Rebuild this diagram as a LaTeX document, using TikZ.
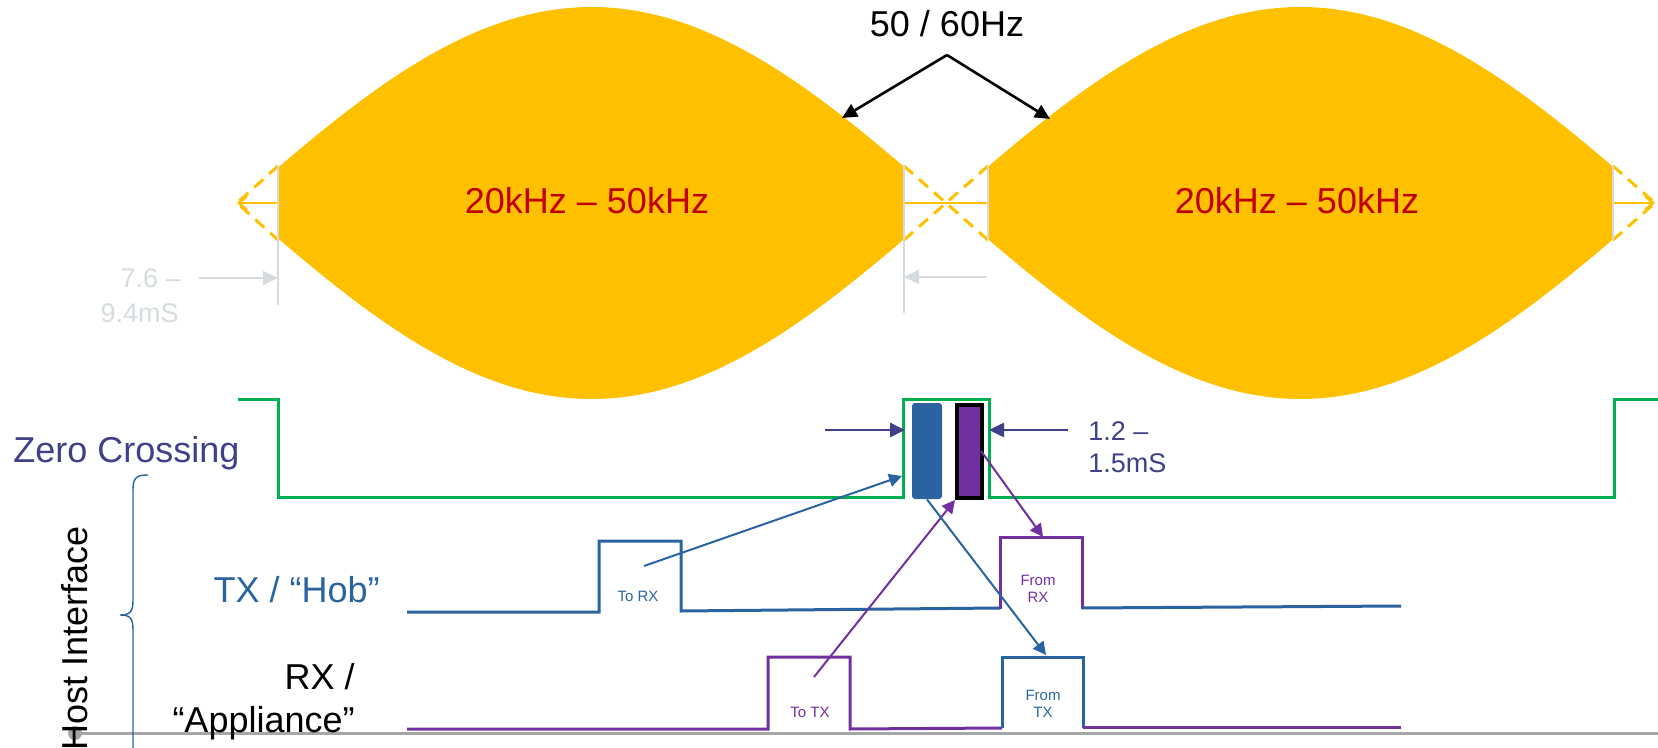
\documentclass[tikz,border=0pt]{standalone}
\usepackage{fontspec}
\setmainfont{Liberation Sans}
\usepackage{xcolor}
\usetikzlibrary{arrows.meta,positioning}
\definecolor{hobOrange}{HTML}{FFC000}
\definecolor{hobRed}{HTML}{C00000}
\definecolor{hobGreen}{HTML}{00B050}
\definecolor{hobNavy}{HTML}{404088}
\definecolor{hobBlue}{HTML}{2A64A0}
\definecolor{hobPurple}{HTML}{7030A0}
\definecolor{hobMist}{HTML}{D5DCE0}
\definecolor{hobRule}{HTML}{A6A6A6}

\begin{document}
\begin{tikzpicture}[
  x=0.5pt, y=-0.5pt,
  font=\fontsize{18}{21.5}\selectfont,
  lobe/.style={fill=hobOrange},
  guide/.style={draw=hobOrange, line width=1.5pt, dash pattern=on 6pt off 4pt},
  axis/.style={draw=hobOrange, line width=1.3pt, -{Straight Barb[length=4pt,width=7pt]}},
  edge/.style={draw=hobMist, line width=0.8pt},
  wave/.style={line width=1.5pt, line join=miter},
  sig/.style={inner sep=0pt, anchor=base},
  note/.style={sig, font=\fontsize{13.5}{16}\selectfont},
  tag/.style={sig, font=\fontsize{7.5}{8.5}\selectfont},
  pointer/.style={line width=1.3pt, -{Triangle[length=7.5pt,width=7pt]}},
  link/.style={line width=1pt, -{Triangle[length=6.5pt,width=6.5pt]}}
]
  \useasboundingbox (0,0) rectangle (1658,748);

  % mains half-cycles with the carrier band
  \foreach \a/\b/\c in {278/904/237, 987/1613/946} {
    \fill[lobe] plot[domain=\a:\b, samples=90] (\x,{203-196*sin(0.253879*(\x-\c))})
      -- plot[domain=\b:\a, samples=90] (\x,{203+196*sin(0.253879*(\x-\c))}) -- cycle;
  }
  \draw[guide] (278,166) -- (237,203) -- (278,240);
  \draw[guide] (904,166) -- (988,240);
  \draw[guide] (904,240) -- (988,166);
  \draw[guide] (1613,166) -- (1655,203) -- (1613,240);
  \draw[axis] (278,203) -- (237,203);
  \draw[axis] (1613,203) -- (1655,203);
  \draw[draw=hobOrange, line width=1.3pt] (904,203) -- (988,203);
  \draw[edge] (278,165) -- (278,305);
  \draw[edge] (904,165) -- (904,313);
  \draw[edge] (988,166) -- (988,240);
  \draw[edge] (1613,166) -- (1613,240);

  \node[sig, text=hobRed] (bandA) at (587,214) {20kHz – 50kHz};
  \node[sig, text=hobRed] (bandB) at (1297,214) {20kHz – 50kHz};

  \node[sig] (mains) at (947,37) {50 / 60Hz};
  \coordinate (fork) at (947,55);
  \coordinate (peakA) at (842,118);
  \coordinate (peakB) at (1050,119);
  \draw[pointer] (fork) -- (peakA);
  \draw[pointer] (fork) -- (peakB);

  % blanking time
  \node[note, anchor=base east, text=hobMist] (gapA) at (181,288) {7.6 –};
  \node[note, anchor=base east, text=hobMist] (gapB) at (179,323) {9.4mS};
  \coordinate (gapL) at (199,278);
  \coordinate (gapR) at (987,277);
  \draw[edge, line width=1pt, -{Triangle[length=7.5pt,width=7pt]}] (gapL) -- (278,278);
  \draw[edge, line width=1pt, -{Triangle[length=7.5pt,width=7pt]}] (gapR) -- (904,277);

  % zero crossing
  \node[sig, anchor=base west, text=hobNavy] (zc) at (13,462) {Zero Crossing};
  \draw[wave, hobGreen] (238,399) -- (278,399) -- (278,497) -- (903,497) -- (903,399)
    -- (989,399) -- (989,497) -- (1614,497) -- (1614,399) -- (1658,399);

  \node[fill=hobBlue, rounded corners=1.5pt, inner sep=0pt, minimum width=15pt, minimum height=48pt] (txslot) at (927,451) {};
  \node[draw=black, fill=hobPurple, line width=2pt, inner sep=0pt, minimum width=12.5pt, minimum height=46.5pt] (rxslot) at (969.5,451.5) {};

  \coordinate (winL) at (825,430);
  \coordinate (winR) at (1068,430);
  \draw[pointer, hobNavy] (winL) -- (905,430);
  \draw[pointer, hobNavy] (winR) -- (989,430);
  \node[note, anchor=base west, text=hobNavy] (winA) at (1088,440) {1.2 –};
  \node[note, anchor=base west, text=hobNavy] (winB) at (1088,472) {1.5mS};

  % host interface
  \draw[hobRule, line width=1.5pt] (75,733) -- (1658,733);
  \fill[hobRule] (75,733) circle (7);
  \node[sig, anchor=base west, rotate=90] (host) at (87,751) {Host Interface};
  \draw[hobBlue, line width=0.7pt] (148,475) .. controls (136,475) and (133,478) .. (133,490)
    -- (133,600) .. controls (133,612) and (130,615) .. (120,615)
    .. controls (130,615) and (133,618) .. (133,630) -- (133,760);

  \node[sig, anchor=base east, text=hobBlue] (tx) at (380,602) {TX / “Hob”};
  \node[sig, anchor=base east] (rxA) at (355,689) {RX /};
  \node[sig, anchor=base east] (rxB) at (355,732) {“Appliance”};

  \draw[wave, hobBlue] (407,612) -- (599,612) -- (599,541) -- (681,541) -- (681,611) -- (1000,608);
  \draw[wave, hobPurple] (1000,609) -- (1000,537) -- (1082,537) -- (1082,609);
  \draw[wave, hobBlue] (1082,608) -- (1401,606);

  \draw[wave, hobPurple] (407,729) -- (768,729) -- (768,657) -- (850,657) -- (850,729) -- (1002,728);
  \draw[wave, hobBlue] (1002,728) -- (1002,657) -- (1083,657) -- (1083,728);
  \draw[wave, hobPurple] (1083,727) -- (1401,727);

  \node[tag, text=hobBlue] (toRX) at (638,601) {To RX};
  \node[tag, text=hobPurple] (toTX) at (810,717) {To TX};
  \node[tag, text=hobPurple, align=center, anchor=base] (fromRX) at (1038,602) {From\\RX};
  \node[tag, text=hobBlue, align=center, anchor=base] (fromTX) at (1043,717) {From\\TX};

  \coordinate (toRXs) at (644,566);
  \coordinate (toTXs) at (814,677);
  \coordinate (rxHit) at (1043,537);
  \coordinate (txHit) at (1046,655);
  \draw[link, hobBlue] (toRXs) -- (902,476);
  \draw[link, hobPurple] (toTXs) -- (rxslot.south west);
  \draw[link, hobPurple] (981,451) -- (rxHit);
  \draw[link, hobBlue] (txslot.south) -- (txHit);
\end{tikzpicture}
\end{document}
